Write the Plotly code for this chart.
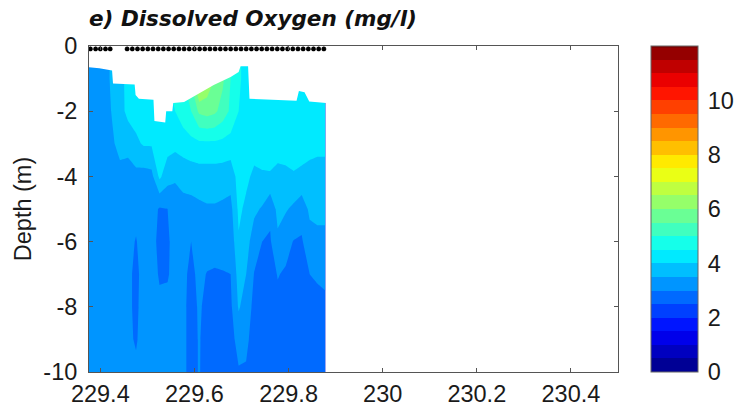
import plotly.graph_objects as go

# ---------------- data ----------------
profile_time = [229.376, 229.392, 229.409, 229.425, 229.442, 229.459, 229.476, 229.492,
                229.509, 229.526, 229.543, 229.559, 229.576, 229.593, 229.610, 229.627,
                229.643, 229.660, 229.677, 229.694, 229.710, 229.727, 229.744, 229.761,
                229.777, 229.794, 229.811, 229.828, 229.845, 229.861, 229.878]

depth_levels = [0, -1, -2, -3, -4, -5, -6, -7, -8, -9, -10]

# one row per profile, values from the surface (0 m) to -10 m
oxygen_profiles = [
    [3.30, 3.30, 3.30, 3.30, 3.30, 3.30, 3.30, 3.30, 3.30, 3.30, 3.30],
    [3.35, 3.35, 3.30, 3.30, 3.30, 3.30, 3.30, 3.25, 3.25, 3.25, 3.25],
    [3.40, 3.40, 3.35, 3.30, 3.30, 3.25, 3.25, 3.20, 3.20, 3.20, 3.20],
    [3.55, 3.55, 3.52, 3.45, 3.30, 3.20, 3.20, 3.15, 3.15, 3.20, 3.20],
    [3.80, 3.80, 3.80, 3.60, 3.40, 3.25, 3.20, 3.15, 3.15, 3.15, 3.20],
    [4.20, 4.20, 4.15, 3.65, 3.30, 3.20, 3.10, 3.10, 3.10, 3.10, 3.15],
    [4.20, 4.20, 4.20, 3.90, 3.35, 3.10, 2.98, 2.90, 2.90, 2.95, 3.10],
    [4.30, 4.30, 4.30, 4.05, 3.30, 3.20, 3.15, 3.15, 3.20, 3.20, 3.20],
    [4.30, 4.30, 4.30, 4.05, 3.35, 3.20, 3.20, 3.20, 3.20, 3.20, 3.20],
    [4.40, 4.40, 4.40, 4.30, 4.10, 2.95, 2.85, 2.95, 3.10, 3.20, 3.20],
    [4.50, 4.50, 4.50, 4.20, 3.70, 3.00, 2.90, 2.95, 3.15, 3.20, 3.20],
    [4.60, 4.60, 4.50, 4.15, 3.55, 3.30, 3.25, 3.20, 3.20, 3.20, 3.20],
    [5.00, 5.00, 4.75, 4.25, 3.65, 3.35, 3.20, 3.10, 3.10, 3.10, 3.10],
    [5.60, 5.60, 5.00, 4.35, 3.70, 3.35, 3.00, 2.90, 2.85, 2.85, 2.85],
    [7.00, 7.00, 5.60, 4.40, 3.75, 3.40, 3.20, 3.10, 3.05, 3.03, 3.03],
    [6.40, 6.40, 5.70, 4.40, 3.75, 3.45, 3.20, 2.98, 2.90, 2.85, 2.80],
    [6.00, 6.00, 5.60, 4.40, 3.75, 3.45, 3.20, 2.95, 2.85, 2.80, 2.80],
    [5.60, 5.60, 5.30, 4.35, 3.75, 3.40, 3.15, 2.98, 2.85, 2.80, 2.80],
    [5.00, 5.00, 4.90, 4.30, 3.70, 3.35, 3.15, 3.00, 2.90, 2.80, 2.80],
    [4.60, 4.60, 4.50, 4.30, 4.20, 4.10, 3.95, 3.70, 3.55, 3.20, 2.95],
    [4.30, 4.30, 4.30, 4.25, 4.10, 3.90, 3.70, 3.50, 3.30, 3.10, 2.95],
    [4.35, 4.35, 4.30, 4.20, 3.90, 3.60, 3.25, 2.98, 2.85, 2.80, 2.80],
    [4.35, 4.35, 4.30, 4.20, 3.95, 3.45, 3.00, 2.90, 2.85, 2.80, 2.80],
    [4.35, 4.35, 4.30, 4.25, 3.95, 3.10, 2.95, 2.85, 2.80, 2.80, 2.80],
    [4.30, 4.30, 4.30, 4.15, 3.90, 3.65, 3.40, 3.02, 2.90, 2.85, 2.80],
    [4.30, 4.30, 4.30, 4.20, 3.90, 3.55, 3.15, 2.95, 2.85, 2.80, 2.80],
    [4.30, 4.30, 4.30, 4.25, 3.95, 3.40, 2.98, 2.90, 2.85, 2.80, 2.80],
    [4.30, 4.30, 4.30, 4.20, 3.90, 3.20, 2.95, 2.90, 2.85, 2.80, 2.80],
    [4.30, 4.30, 4.30, 4.15, 3.85, 3.60, 3.30, 3.00, 2.90, 2.85, 2.80],
    [4.30, 4.30, 4.25, 4.10, 3.85, 3.65, 3.35, 3.02, 2.95, 2.85, 2.80],
    [4.30, 4.30, 4.25, 4.10, 3.85, 3.65, 3.35, 3.05, 2.95, 2.85, 2.80],
]

# depth of the shallowest measurement (upper edge of the data)
surface_time = [229.376, 229.398, 229.425, 229.427, 229.473, 229.475, 229.482, 229.513,
                229.515, 229.538, 229.540, 229.553, 229.555, 229.578, 229.641, 229.677,
                229.694, 229.698, 229.714, 229.717, 229.817, 229.822, 229.834, 229.844,
                229.880]
surface_depth = [-0.65, -0.68, -0.75, -1.15, -1.18, -1.50, -1.62, -1.65,
                 -2.30, -2.35, -2.00, -2.00, -1.75, -1.72, -1.20, -0.95,
                 -0.80, -0.62, -0.62, -1.62, -1.68, -1.38, -1.42, -1.70,
                 -1.75]

# sampling times (markers along the surface)
sample_time = [229.379, 229.390, 229.400, 229.411, 229.421,
               229.457, 229.468, 229.479, 229.490, 229.501, 229.512, 229.523, 229.534,
               229.545, 229.556, 229.567, 229.578, 229.589, 229.600, 229.611, 229.622,
               229.633, 229.644, 229.655, 229.666, 229.677, 229.688, 229.699, 229.710,
               229.721, 229.732, 229.743, 229.754, 229.765, 229.776, 229.787, 229.798,
               229.809, 229.820, 229.831, 229.842, 229.853, 229.864, 229.875]
sample_depth = [-0.09] * len(sample_time)

x_tick_values = [229.4, 229.6, 229.8, 230.0, 230.2, 230.4]
x_tick_labels = ["229.4", "229.6", "229.8", "230", "230.2", "230.4"]
y_tick_values = [0, -2, -4, -6, -8, -10]
y_tick_labels = ["0", "-2", "-4", "-6", "-8", "-10"]
cbar_tick_values = [0, 2, 4, 6, 8, 10]
cbar_tick_labels = ["0", "2", "4", "6", "8", "10"]

# ---------------- figure ----------------
jet = [[0.0, "rgb(0,0,128)"], [0.125, "rgb(0,0,255)"], [0.375, "rgb(0,255,255)"],
       [0.625, "rgb(255,255,0)"], [0.875, "rgb(255,0,0)"], [1.0, "rgb(128,0,0)"]]

z = [[oxygen_profiles[i][j] for i in range(len(profile_time))]
     for j in range(len(depth_levels))]

font_family = "Liberation Sans, Arial, sans-serif"
axis_color = "#555555"
text_color = "#1a1a1a"
fsize = 23.5

fig = go.Figure()

fig.add_trace(go.Contour(
    x=profile_time, y=depth_levels, z=z,
    colorscale=jet, zmin=0, zmax=12,
    autocontour=False,
    contours=dict(start=0, end=12, size=0.5, coloring="fill", showlines=False),
    line=dict(width=0, smoothing=0),
    hoverinfo="skip",
    colorbar=dict(
        x=1.0616, xanchor="left", xref="paper",
        y=0.5, yanchor="middle", len=1, lenmode="fraction",
        thickness=47, thicknessmode="pixels",
        xpad=0, ypad=0, borderwidth=0,
        outlinewidth=1, outlinecolor="#666666",
        tickmode="array", tickvals=cbar_tick_values, ticktext=cbar_tick_labels,
        ticks="outside", ticklen=5, tickcolor="rgba(0,0,0,0)",
        tickfont=dict(family=font_family, size=fsize, color=text_color),
    ),
))

fig.add_trace(go.Scatter(
    x=surface_time + [surface_time[-1], surface_time[0]],
    y=surface_depth + [0, 0],
    mode="lines", fill="toself", fillcolor="white",
    line=dict(width=0, color="white"),
    hoverinfo="skip", showlegend=False,
))

fig.add_trace(go.Scatter(
    x=sample_time, y=sample_depth, mode="markers",
    marker=dict(symbol="asterisk-open", size=4, color="black",
                line=dict(color="black", width=1.5)),
    hoverinfo="skip", showlegend=False,
))

fig.update_layout(
    width=746, height=411,
    margin=dict(l=89, r=121, t=46, b=39),
    paper_bgcolor="white", plot_bgcolor="white",
    showlegend=False,
    title=dict(
        text="<b><i>e) Dissolved Oxygen (mg/l)</i></b>",
        font=dict(family="DejaVu Sans, Verdana, sans-serif", size=21.5, color="#111111"),
        x=0, xref="paper", xanchor="left",
        y=1 - 18 / 411, yref="container", yanchor="middle",
    ),
    xaxis=dict(
        range=[229.376, 230.5], showgrid=False, zeroline=False, automargin=False,
        tickmode="array", tickvals=x_tick_values, ticktext=x_tick_labels,
        ticks="inside", ticklen=4, tickcolor=axis_color, mirror="ticks",
        showline=True, linecolor=axis_color, linewidth=1,
        tickfont=dict(family=font_family, size=fsize, color=text_color),
        ticklabelstandoff=1,
    ),
    yaxis=dict(
        range=[-10, 0], showgrid=False, zeroline=False, automargin=False,
        tickmode="array", tickvals=y_tick_values, ticktext=y_tick_labels,
        ticks="inside", ticklen=4, tickcolor=axis_color, mirror="ticks",
        showline=True, linecolor=axis_color, linewidth=1,
        tickfont=dict(family=font_family, size=fsize, color=text_color),
        ticklabelstandoff=6,
        title=dict(text="Depth (m)", standoff=5,
                   font=dict(family=font_family, size=fsize, color=text_color)),
    ),
)

fig.write_html("out.html", config={"displayModeBar": False},
               post_script="document.body.style.margin='0px';")
